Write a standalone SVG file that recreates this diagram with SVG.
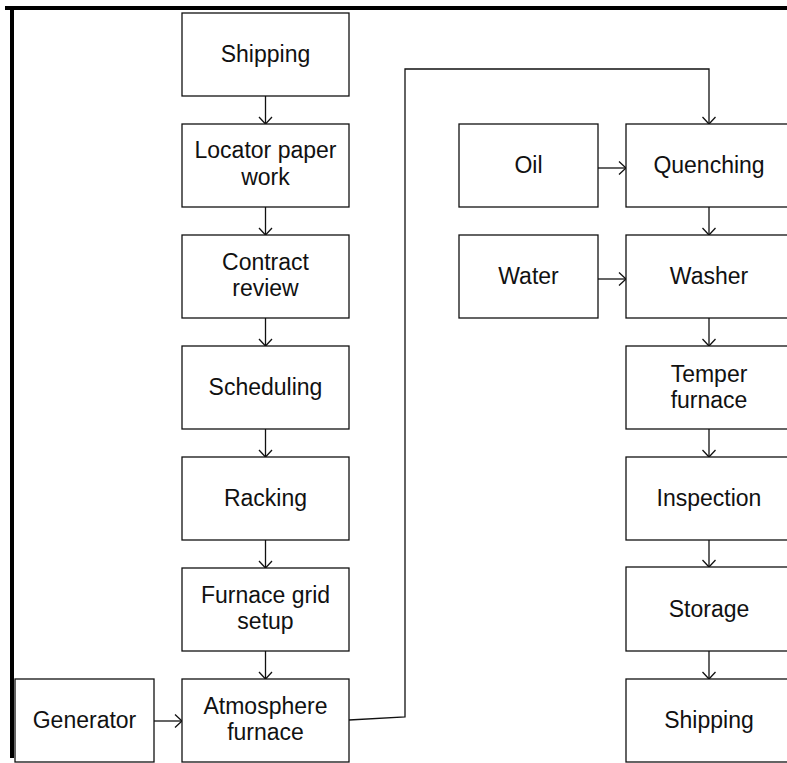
<svg xmlns="http://www.w3.org/2000/svg" width="787" height="763" viewBox="0 0 787 763">
  <defs>
    <marker id="arrow" viewBox="-8 -8 10 16" markerWidth="10" markerHeight="16" refX="0" refY="0" orient="auto" markerUnits="userSpaceOnUse">
      <path d="M-7,-6.5 L0,0 L-7,6.5" fill="none" stroke="#111" stroke-width="1.3"/>
    </marker>
  </defs>
  <style>
    .box { fill: #fff; stroke: #111; stroke-width: 1.3; }
    .lbl { font-family: "Liberation Sans", Arial, sans-serif; font-size: 23px; fill: #111; text-anchor: middle; }
    .conn { fill: none; stroke: #111; stroke-width: 1.3; marker-end: url(#arrow); }
    .frame { fill: none; stroke: #000; stroke-width: 4; }
  </style>
  <rect width="787" height="763" fill="#fff"/>

  <!-- page frame: top and left edges -->
  <path class="frame" d="M5,8 H787 M12,8 V758"/>

  <!-- connectors -->
  <g id="connectors">
    <line class="conn" x1="265.5" y1="96" x2="265.5" y2="124"/>
    <line class="conn" x1="265.5" y1="207" x2="265.5" y2="235"/>
    <line class="conn" x1="265.5" y1="318" x2="265.5" y2="346"/>
    <line class="conn" x1="265.5" y1="429" x2="265.5" y2="457"/>
    <line class="conn" x1="265.5" y1="540" x2="265.5" y2="568"/>
    <line class="conn" x1="265.5" y1="651" x2="265.5" y2="679"/>
    <line class="conn" x1="154" y1="721" x2="182" y2="721"/>
    <polyline class="conn" points="349,720 405,717 405,69 709,69 709,124"/>
    <line class="conn" x1="598" y1="168" x2="626" y2="168"/>
    <line class="conn" x1="598" y1="279" x2="626" y2="279"/>
    <line class="conn" x1="709" y1="207" x2="709" y2="235"/>
    <line class="conn" x1="709" y1="318" x2="709" y2="346"/>
    <line class="conn" x1="709" y1="429" x2="709" y2="457"/>
    <line class="conn" x1="709" y1="540" x2="709" y2="567"/>
    <line class="conn" x1="709" y1="651" x2="709" y2="679"/>
  </g>

  <!-- left column -->
  <g id="shipping-in">
    <rect class="box" x="182" y="13" width="167" height="83"/>
    <text class="lbl" x="265.5" y="62">Shipping</text>
  </g>
  <g id="locator">
    <rect class="box" x="182" y="124" width="167" height="83"/>
    <text class="lbl" x="265.5" y="158">Locator paper</text>
    <text class="lbl" x="265.5" y="185">work</text>
  </g>
  <g id="contract">
    <rect class="box" x="182" y="235" width="167" height="83"/>
    <text class="lbl" x="265.5" y="270">Contract</text>
    <text class="lbl" x="265.5" y="296">review</text>
  </g>
  <g id="scheduling">
    <rect class="box" x="182" y="346" width="167" height="83"/>
    <text class="lbl" x="265.5" y="395">Scheduling</text>
  </g>
  <g id="racking">
    <rect class="box" x="182" y="457" width="167" height="83"/>
    <text class="lbl" x="265.5" y="506">Racking</text>
  </g>
  <g id="grid-setup">
    <rect class="box" x="182" y="568" width="167" height="83"/>
    <text class="lbl" x="265.5" y="603">Furnace grid</text>
    <text class="lbl" x="265.5" y="629">setup</text>
  </g>
  <g id="atmosphere">
    <rect class="box" x="182" y="679" width="167" height="83"/>
    <text class="lbl" x="265.5" y="714">Atmosphere</text>
    <text class="lbl" x="265.5" y="740">furnace</text>
  </g>
  <g id="generator">
    <rect class="box" x="15" y="679" width="139" height="83"/>
    <text class="lbl" x="84.5" y="728">Generator</text>
  </g>

  <!-- right column -->
  <g id="oil">
    <rect class="box" x="459" y="124" width="139" height="83"/>
    <text class="lbl" x="528.5" y="173">Oil</text>
  </g>
  <g id="quenching">
    <rect class="box" x="626" y="124" width="167" height="83"/>
    <text class="lbl" x="709" y="173">Quenching</text>
  </g>
  <g id="water">
    <rect class="box" x="459" y="235" width="139" height="83"/>
    <text class="lbl" x="528.5" y="284">Water</text>
  </g>
  <g id="washer">
    <rect class="box" x="626" y="235" width="167" height="83"/>
    <text class="lbl" x="709" y="284">Washer</text>
  </g>
  <g id="temper">
    <rect class="box" x="626" y="346" width="167" height="83"/>
    <text class="lbl" x="709" y="382">Temper</text>
    <text class="lbl" x="709" y="408">furnace</text>
  </g>
  <g id="inspection">
    <rect class="box" x="626" y="457" width="167" height="83"/>
    <text class="lbl" x="709" y="506">Inspection</text>
  </g>
  <g id="storage">
    <rect class="box" x="626" y="567" width="167" height="84"/>
    <text class="lbl" x="709" y="617">Storage</text>
  </g>
  <g id="shipping-out">
    <rect class="box" x="626" y="679" width="167" height="83"/>
    <text class="lbl" x="709" y="728">Shipping</text>
  </g>
</svg>
